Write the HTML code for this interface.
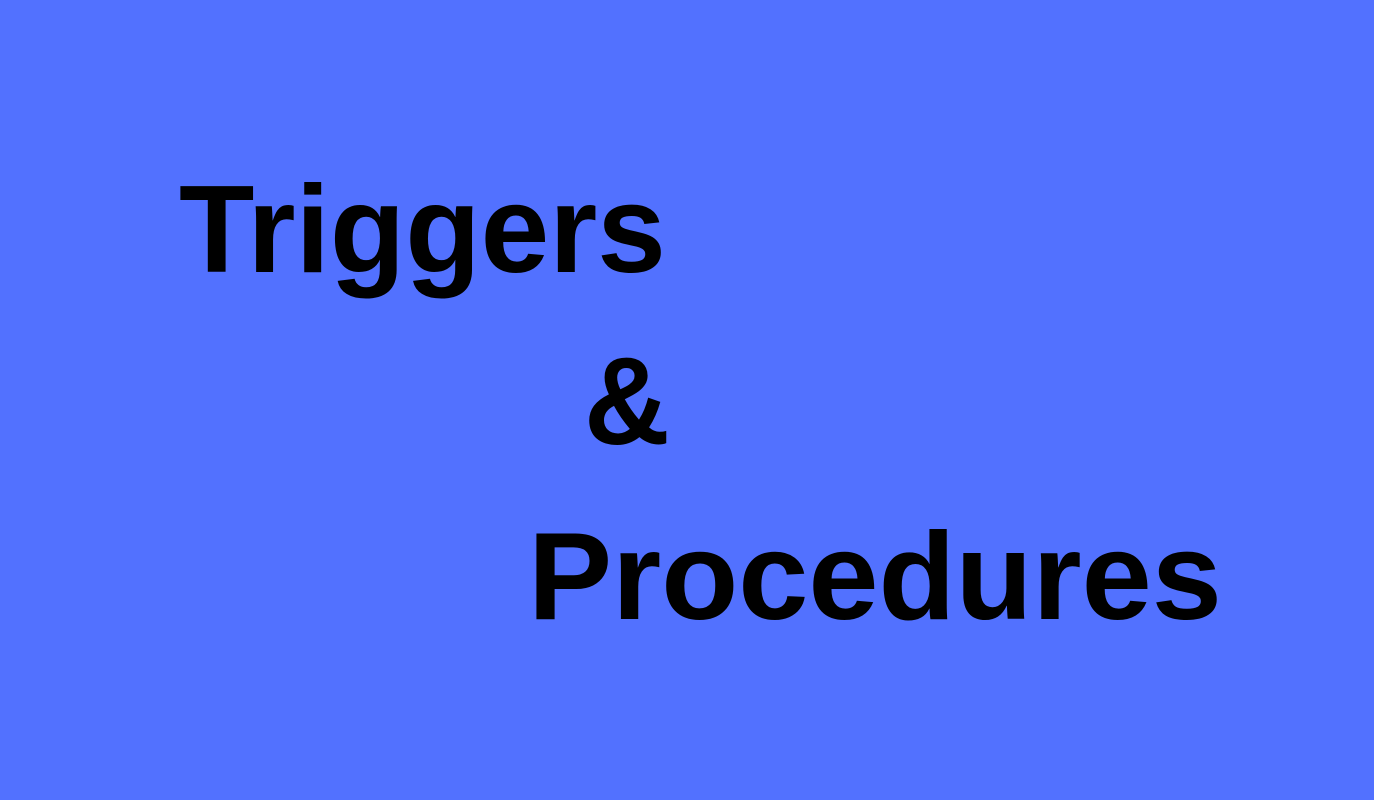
<!DOCTYPE html>
<html><head><meta charset="utf-8"><style>
html,body{margin:0;padding:0;}
body{width:1374px;height:800px;background:#5271FF;position:relative;overflow:hidden;}
.t{position:absolute;font-family:"Liberation Sans",sans-serif;font-weight:bold;font-size:124px;line-height:124px;color:#000;white-space:nowrap;transform-origin:0 0;}
</style></head><body>
<div class="t" style="left:179px;top:168px;transform:scaleX(0.995);">Triggers</div>
<div class="t" style="left:584px;top:340px;transform:scaleX(0.96);">&amp;</div>
<div class="t" style="left:528px;top:515px;transform:scaleX(1.017);">Procedures</div>
</body></html>
